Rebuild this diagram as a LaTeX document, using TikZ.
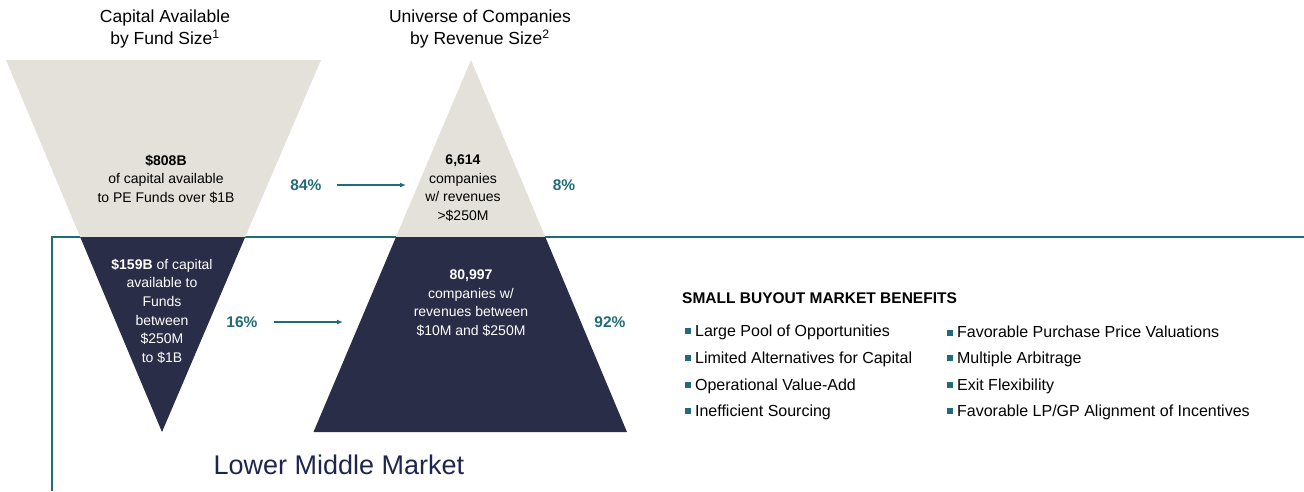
\documentclass[tikz,border=0pt]{standalone}
\usepackage{fontspec}
\setmainfont{Liberation Sans}
\usetikzlibrary{arrows.meta}
\definecolor{tealc}{HTML}{1F6C78}
\definecolor{lightc}{HTML}{E3E1DA}
\definecolor{navyc}{HTML}{2A2D47}
\definecolor{titlec}{HTML}{1E2650}
\newcommand{\bsq}{{\color{tealc}\rule[0.12em]{0.36em}{0.36em}}\hspace{0.26em}}
\begin{document}
\begin{tikzpicture}[x=1pt,y=-1pt,
  title/.style={font=\fontsize{17.5}{22}\selectfont, align=center, text=black},
  body/.style={font=\fontsize{14}{18.6}\selectfont, align=center},
  pct/.style={font=\fontsize{15.5}{18}\selectfont\bfseries, text=tealc},
  item/.style={font=\fontsize{16}{18}\selectfont, anchor=west, inner sep=0pt},
  conn/.style={draw=tealc, line width=1.3pt, -{Latex[length=6pt,width=5pt]}},
  frameline/.style={draw=tealc, line width=2.2pt}]
\useasboundingbox (0,0) rectangle (1304,491);
% frame
\coordinate (fl) at (52,491);
\coordinate (fc) at (52,237);
\coordinate (fr) at (1304,237);
\draw[frameline] (fl) -- (fc) -- (fr);
% left inverted triangle
\fill[lightc] (6,60) -- (321,60) -- (245.2,237) -- (80.2,237) -- cycle;
\fill[navyc] (80.2,237) -- (245.2,237) -- (162,432) -- cycle;
% right triangle
\fill[lightc] (471,60) -- (545.3,237) -- (396,237) -- cycle;
\fill[navyc] (396,237) -- (545.3,237) -- (627,432) -- (313.5,432) -- cycle;
% titles
\node[title] (t1) at (165,29) {Capital Available\\by Fund Size\textsuperscript{1}};
\node[title] (t2) at (480,29) {Universe of Companies\\by Revenue Size\textsuperscript{2}};
% texts
\node[body, text=black] (a1) at (166,179) {\textbf{\$808B}\\of capital available\\to PE Funds over \$1B};
\node[body, text=black] (a2) at (463,188) {\textbf{6,614}\\companies\\w/ revenues\\>\$250M};
\node[body, text=white] (b1) at (162,311) {\textbf{\$159B} of capital\\available to\\Funds\\between\\\$250M\\to \$1B};
\node[body, text=white] (b2) at (471,303) {\textbf{80,997}\\companies w/\\revenues between\\\$10M and \$250M};
% percentages
\node[pct] (p84) at (306,185) {84\%};
\node[pct] (p8) at (564,185) {8\%};
\node[pct] (p16) at (242,322) {16\%};
\node[pct] (p92) at (610,322) {92\%};
\coordinate (e1) at (406,185);
\coordinate (e2) at (343,322);
\draw[conn] (p84.east) ++(12,0) coordinate (s1) -- (e1);
\draw[conn] (p16.east) ++(13,0) coordinate (s2) -- (e2);
% lower middle market
\node[font=\fontsize{27}{30}\selectfont, text=titlec] (lmm) at (339,465) {Lower Middle Market};
% benefits
\node[font=\fontsize{15.5}{18}\selectfont\bfseries, anchor=west, inner sep=0pt] (hd) at (682,298) {SMALL BUYOUT MARKET BENEFITS};
\node[item] (i1) at (685,332) {\bsq Large Pool of Opportunities};
\node[item] (i2) at (685,359) {\bsq Limited Alternatives for Capital};
\node[item] (i3) at (685,386) {\bsq Operational Value-Add};
\node[item] (i4) at (685,412) {\bsq Inefficient Sourcing};
\node[item] (j1) at (947,332) {\bsq Favorable Purchase Price Valuations};
\node[item] (j2) at (947,359) {\bsq Multiple Arbitrage};
\node[item] (j3) at (947,386) {\bsq Exit Flexibility};
\node[item] (j4) at (947,412) {\bsq Favorable LP/GP Alignment of Incentives};
\end{tikzpicture}
\end{document}
